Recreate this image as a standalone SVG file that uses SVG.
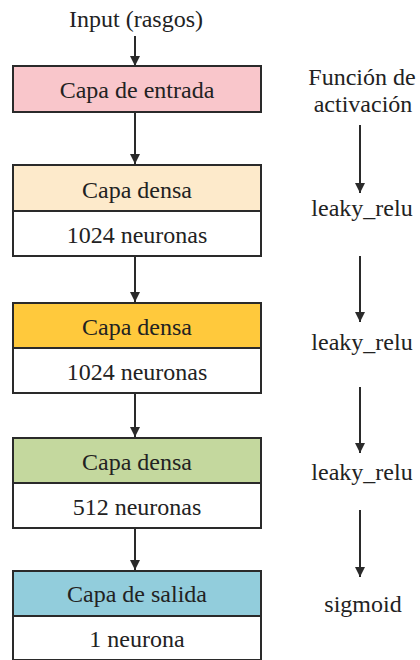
<svg xmlns="http://www.w3.org/2000/svg" width="420" height="660" viewBox="0 0 420 660">
<style>
.t{font-family:'Liberation Serif','DejaVu Serif',serif;font-size:24px;fill:#222;text-anchor:middle}
.b{stroke:#2a2a2a;stroke-width:2}
.c{stroke:#2a2a2a;stroke-width:2;fill:none}
</style>
<defs>
<marker id="ah" viewBox="0 0 10 10" refX="10" refY="5" markerWidth="5" markerHeight="5" orient="auto" markerUnits="strokeWidth">
<path d="M0,0 L10,5 L0,10 z" fill="#2a2a2a"/>
</marker>
</defs>
<rect width="420" height="660" fill="#fff"/>
<g id="input"><text class="t" x="136" y="27">Input (rasgos)</text></g>
<g id="capa-entrada">
<rect class="b" x="13" y="66" width="248" height="46" fill="#F9C6CB"/>
<text class="t" x="137" y="98">Capa de entrada</text>
</g>
<g id="capa-densa-1">
<rect class="b" x="13" y="165" width="248" height="46" fill="#FDEACB"/>
<rect class="b" x="13" y="211" width="248" height="45" fill="#fff"/>
<text class="t" x="137" y="198">Capa densa</text>
<text class="t" x="137" y="243">1024 neuronas</text>
</g>
<g id="capa-densa-2">
<rect class="b" x="13" y="303" width="248" height="45" fill="#FFC93C"/>
<rect class="b" x="13" y="348" width="248" height="45" fill="#fff"/>
<text class="t" x="137" y="335">Capa densa</text>
<text class="t" x="137" y="380">1024 neuronas</text>
</g>
<g id="capa-densa-3">
<rect class="b" x="13" y="438" width="248" height="45" fill="#C4D89E"/>
<rect class="b" x="13" y="483" width="248" height="45" fill="#fff"/>
<text class="t" x="137" y="470">Capa densa</text>
<text class="t" x="137" y="515">512 neuronas</text>
</g>
<g id="capa-salida">
<rect class="b" x="13" y="571" width="248" height="45" fill="#92CDDC"/>
<rect class="b" x="13" y="616" width="248" height="44" fill="#fff"/>
<text class="t" x="137" y="602">Capa de salida</text>
<text class="t" x="137" y="647">1 neurona</text>
</g>
<g id="funcion-activacion">
<text class="t" x="362" y="85">Función de</text>
<text class="t" x="363" y="112">activación</text>
</g>
<g id="act-1"><text class="t" x="362" y="216">leaky_relu</text></g>
<g id="act-2"><text class="t" x="362" y="350">leaky_relu</text></g>
<g id="act-3"><text class="t" x="362" y="480">leaky_relu</text></g>
<g id="act-4"><text class="t" x="363" y="612">sigmoid</text></g>
<g id="connectors">
<line class="c" x1="135" y1="36" x2="135" y2="66" marker-end="url(#ah)"/>
<line class="c" x1="135" y1="112" x2="135" y2="164" marker-end="url(#ah)"/>
<line class="c" x1="135" y1="256" x2="135" y2="302" marker-end="url(#ah)"/>
<line class="c" x1="135" y1="393" x2="135" y2="437" marker-end="url(#ah)"/>
<line class="c" x1="135" y1="528" x2="135" y2="570" marker-end="url(#ah)"/>
<line class="c" x1="360" y1="125" x2="360" y2="193" marker-end="url(#ah)"/>
<line class="c" x1="360" y1="256" x2="360" y2="322" marker-end="url(#ah)"/>
<line class="c" x1="360" y1="387" x2="360" y2="453" marker-end="url(#ah)"/>
<line class="c" x1="360" y1="510" x2="360" y2="577" marker-end="url(#ah)"/>
</g>
</svg>
